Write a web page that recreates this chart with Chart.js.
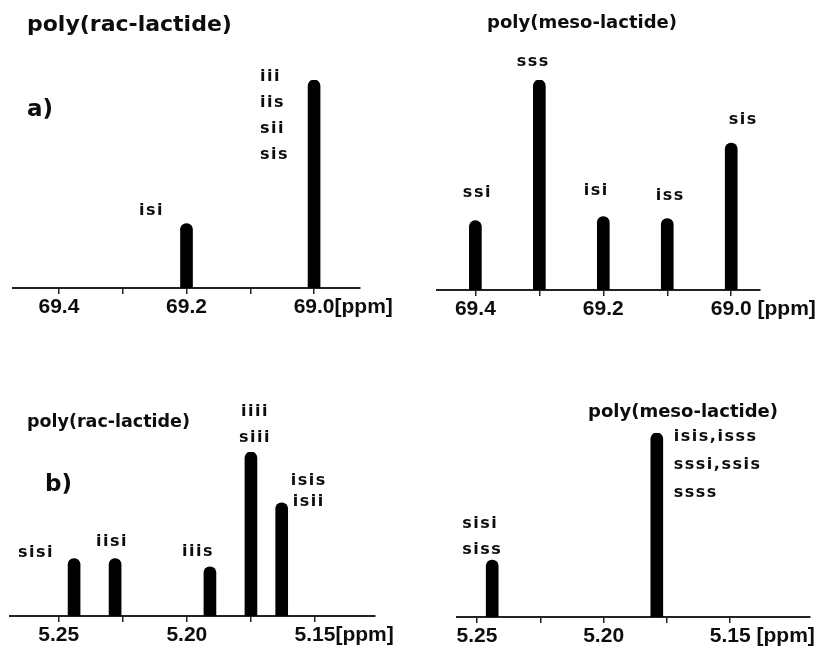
<!DOCTYPE html>
<html>
<head>
<meta charset="utf-8">
<title>Lactide stereosequences</title>
<script src="https://cdn.jsdelivr.net/npm/chart.js@4.4.1/dist/chart.umd.min.js"></script>
<style>
  body { margin: 0; background: #fff; }
  #wrap { position: relative; width: 821px; height: 649px; overflow: hidden; }
  .panel { position: absolute; }
</style>
</head>
<body>
<div id="wrap">
  <div class="panel" style="left:0;top:0"><canvas id="c13rac" width="410" height="330"></canvas></div>
  <div class="panel" style="left:410px;top:0"><canvas id="c13meso" width="411" height="330"></canvas></div>
  <div class="panel" style="left:0;top:330px"><canvas id="h1rac" width="410" height="319"></canvas></div>
  <div class="panel" style="left:410px;top:330px"><canvas id="h1meso" width="411" height="319"></canvas></div>
</div>
<script>
// a) 13C methine region (ppm, relative intensity)
const c13RacShift = [69.2, 69.0];
const c13RacInt = [31, 100];
const c13RacLabels = [['isi'], ['iii', 'iis', 'sii', 'sis']];

const c13MesoShift = [69.4, 69.3, 69.2, 69.1, 69.0];
const c13MesoInt = [33, 100, 35, 34, 70];
const c13MesoLabels = [['ssi'], ['sss'], ['isi'], ['iss'], ['sis']];

const c13Ticks = [69.4, 69.3, 69.2, 69.1, 69.0];
const c13TickLabels = ['69.4', '', '69.2', '', '69.0'];

// b) 1H methine region
const h1RacShift = [5.244, 5.228, 5.191, 5.175, 5.163];
const h1RacInt = [35, 35, 30, 100, 69];
const h1RacLabels = [['sisi'], ['iisi'], ['iiis'], ['iiii', 'siii'], ['isis', 'isii']];

const h1MesoShift = [5.244, 5.179];
const h1MesoInt = [31, 100];
const h1MesoLabels = [['sisi', 'siss'], ['isis,isss', 'sssi,ssis', 'ssss']];

const h1Ticks = [5.25, 5.225, 5.20, 5.175, 5.15];
const h1TickLabels = ['5.25', '', '5.20', '', '5.15'];

const TICK_FONT = { family: 'Liberation Sans', weight: 'bold', size: 21 };
const INK = '#0d0d0d';

// draws peak assignments, panel title, a)/b) tag and the [ppm] unit
const spectrumDecor = {
  id: 'spectrumDecor',
  afterDraw(chart, args, opts) {
    const ctx = chart.ctx;
    const bars = chart.getDatasetMeta(0).data;
    ctx.save();
    ctx.fillStyle = INK;
    ctx.textBaseline = 'middle';

    ctx.font = 'bold 16px "DejaVu Sans"';
    ctx.letterSpacing = '1.5px';
    bars.forEach((bar, i) => {
      const p = opts.place[i];
      ctx.textAlign = p.align || 'center';
      opts.labels[i].forEach((line, k) => {
        ctx.fillText(line, bar.x + p.dx, bar.y + p.dy + k * (p.lh || 26));
      });
    });
    ctx.letterSpacing = '0px';

    ctx.textAlign = 'left';
    ctx.font = 'bold ' + opts.title.size + 'px "DejaVu Sans"';
    ctx.fillText(opts.title.text, opts.title.x, opts.title.y);

    if (opts.tag) {
      ctx.font = 'bold 23px "DejaVu Sans"';
      ctx.fillText(opts.tag.text, opts.tag.x, opts.tag.y);
    }

    // unit after the last tick label
    const items = chart.scales.x.getLabelItems();
    const last = items[items.length - 1];
    if (last) {
      ctx.font = 'bold ' + TICK_FONT.size + 'px "' + TICK_FONT.family + '"';
      ctx.textBaseline = last.options.textBaseline;
      const w = ctx.measureText(last.label).width;
      ctx.fillText(opts.unit, last.options.translation[0] + w / 2, last.options.translation[1] + last.textOffset);
    }
    ctx.restore();
  }
};

function makePanel(id, cfg) {
  return new Chart(document.getElementById(id), {
    type: 'bar',
    data: {
      datasets: [{
        data: cfg.shifts.map((x, i) => ({ x: x, y: cfg.ints[i] })),
        backgroundColor: '#000',
        borderWidth: 0,
        barThickness: 12,
        borderRadius: { topLeft: 6, topRight: 6, bottomLeft: 0, bottomRight: 0 },
        borderSkipped: 'bottom'
      }]
    },
    options: {
      responsive: false,
      animation: false,
      layout: { padding: { left: cfg.pad[0], right: cfg.pad[1], top: cfg.pad[2], bottom: 0 } },
      scales: {
        x: {
          type: 'linear',
          reverse: true,
          offset: false,
          min: cfg.min,
          max: cfg.max,
          afterBuildTicks: s => { s.ticks = cfg.ticks.map(v => ({ value: v })); },
          afterFit: s => { s.height = cfg.axisH; },
          border: { display: true, color: '#222', width: 2 },
          grid: { drawOnChartArea: false, drawTicks: true, tickLength: 6, color: '#222', lineWidth: 1.5, offset: false },
          ticks: {
            autoSkip: false,
            maxRotation: 0,
            padding: 1,
            color: INK,
            font: TICK_FONT,
            callback: (v, i) => cfg.tickLabels[i]
          }
        },
        y: { display: false, min: 0, max: 100 }
      },
      plugins: {
        legend: { display: false },
        tooltip: { enabled: false },
        spectrumDecor: {
          labels: cfg.labels,
          place: cfg.place,
          title: cfg.title,
          tag: cfg.tag,
          unit: cfg.unit
        }
      }
    },
    plugins: [spectrumDecor]
  });
}

makePanel('c13rac', {
  shifts: c13RacShift, ints: c13RacInt, labels: c13RacLabels,
  place: [{ dx: -35, dy: -13 }, { dx: -54, dy: -3, align: 'left', lh: 26 }],
  ticks: c13Ticks, tickLabels: c13TickLabels, unit: '[ppm]',
  min: 68.928, max: 69.472, pad: [13, 50, 80], axisH: 42,
  title: { text: 'poly(rac-lactide)', x: 27, y: 25, size: 22 },
  tag: { text: 'a)', x: 27, y: 110 }
});

makePanel('c13meso', {
  shifts: c13MesoShift, ints: c13MesoInt, labels: c13MesoLabels,
  place: [{ dx: 2, dy: -28 }, { dx: -6, dy: -18 }, { dx: -7, dy: -26 }, { dx: 3, dy: -23 }, { dx: 12, dy: -23 }],
  ticks: c13Ticks, tickLabels: c13TickLabels, unit: ' [ppm]',
  min: 68.955, max: 69.46, pad: [27, 61, 80], axisH: 40,
  title: { text: 'poly(meso-lactide)', x: 77, y: 23, size: 18 }
});

makePanel('h1rac', {
  shifts: h1RacShift, ints: h1RacInt, labels: h1RacLabels,
  place: [{ dx: -38, dy: -6 }, { dx: -3, dy: -17 }, { dx: -12, dy: -15 },
          { dx: 4, dy: -40, lh: 26 }, { dx: 27, dy: -22, lh: 21 }],
  ticks: h1Ticks, tickLabels: h1TickLabels, unit: '[ppm]',
  min: 5.1266, max: 5.269, pad: [10, 35, 122], axisH: 33,
  title: { text: 'poly(rac-lactide)', x: 27, y: 92, size: 17.5 },
  tag: { text: 'b)', x: 45, y: 155 }
});

makePanel('h1meso', {
  shifts: h1MesoShift, ints: h1MesoInt, labels: h1MesoLabels,
  place: [{ dx: -30, dy: -36, align: 'left', lh: 26 }, { dx: 17, dy: 4, align: 'left', lh: 28 }],
  ticks: h1Ticks, tickLabels: h1TickLabels, unit: ' [ppm]',
  min: 5.1185, max: 5.2579, pad: [47, 11, 103], axisH: 32,
  title: { text: 'poly(meso-lactide)', x: 178, y: 82, size: 18 }
});
</script>
</body>
</html>
